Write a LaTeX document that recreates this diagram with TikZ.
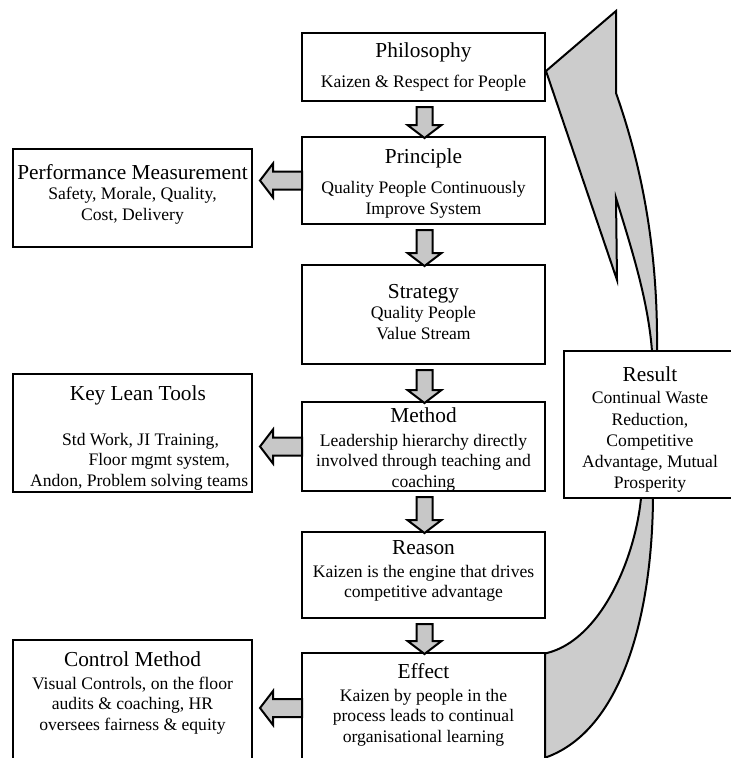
\documentclass[tikz,border=0pt]{standalone}
\usepackage{fontspec}
\setmainfont{Liberation Serif}
\usetikzlibrary{calc,positioning}
\pgfdeclarelayer{bg}
\pgfsetlayers{bg,main}
\tikzset{boxed/.style={draw, line width=1.5pt, fill=white, align=center, inner sep=1pt, outer sep=0pt, font=\fontsize{13.2}{15.4}\selectfont}}
\tikzset{colbox/.style={boxed, minimum width=182.25pt}}
\tikzset{sidebox/.style={boxed, minimum width=179.25pt}}
\tikzset{blockarr/.style={draw, line width=1.5pt, fill=black!22, line join=miter}}
\tikzset{feedback/.style={draw, line width=1.5pt, fill=black!20, line join=miter}}
\newcommand{\ttl}[1]{{\fontsize{16}{19}\selectfont #1}}
% raised title: strut pushes the text block down
\newcommand{\ttlr}[2]{\rule{0pt}{#1}\ttl{#2}}
\newcommand{\downarr}[2]{\path[blockarr] ($(#1.south)+(-7,6)$) -- ($(#2.north)+(-7,-12)$) -- ($(#2.north)+(-16,-12)$) -- ($(#2.north)+(1,1)$) -- ($(#2.north)+(18,-12)$) -- ($(#2.north)+(9,-12)$) -- ($(#1.south)+(9,6)$) -- cycle;}
\newcommand{\leftarr}[2]{\path[blockarr] ($(#1.west)+(0,-9)$) -- ($(#2.east |- #1.west)+(21,-9)$) -- ($(#2.east |- #1.west)+(21,-17)$) -- ($(#2.east |- #1.west)+(8,0)$) -- ($(#2.east |- #1.west)+(21,17)$) -- ($(#2.east |- #1.west)+(21,9)$) -- ($(#1.west)+(0,9)$) -- cycle;}

\begin{document}
\begin{tikzpicture}[x=0.75pt, y=-0.75pt]
	\useasboundingbox (0,0) rectangle (731,758);
	
	\node[colbox, minimum height=51pt] (phil) at (423.5,67) {\ttl{Philosophy}\\[7pt] Kaizen \& Respect for People};
	\node[colbox, minimum height=65.25pt] (prin) at (423.5,180.5) {\ttlr{15.5pt}{Principle}\\[7pt] Quality People Continuously\\ Improve System};
	\node[colbox, minimum height=74.25pt] (strat) at (423.5,314.5) {\ttl{Strategy}\\[0pt] Quality People\\ Value Stream\\[-11pt]\mbox{}};
	\node[colbox, minimum height=66.75pt, inner sep=0pt] (meth) at (423.5,446.5) {\ttlr{15pt}{Method}\\[2.5pt] Leadership hierarchy directly\\ involved through teaching and\\ coaching};
	\node[colbox, minimum height=64.5pt] (reas) at (423.5,575) {\ttl{Reason}\\[1.5pt] Kaizen is the engine that drives\\ competitive advantage\\[-6.5pt]\mbox{}};
	\node[colbox, minimum height=82.5pt] (eff) at (423.5,708) {\ttl{Effect}\\[1.5pt] Kaizen by people in the\\ process leads to continual\\ organisational learning\\[-8pt]\mbox{}};
	
	\node[sidebox, minimum height=73.5pt] (perf) at (132.5,198) {\ttl{Performance Measurement}\\ Safety, Morale, Quality,\\ Cost, Delivery\\[-6.5pt]\mbox{}};
	\node[sidebox, minimum height=88.5pt] (tools) at (132.5,433) {\hspace*{8pt}\ttlr{18.5pt}{Key Lean Tools}\\[18pt] \hspace*{12pt}Std Work, JI Training,\\ \hspace*{40pt}Floor mgmt system,\\ \hspace*{10pt}Andon, Problem solving teams};
	\node[sidebox, minimum height=92.25pt] (ctrl) at (132.5,701.5) {\ttl{Control Method}\\[1.5pt] Visual Controls, on the floor\\ audits \& coaching, HR\\ oversees fairness \& equity\\ \mbox{}};
	
	\node[boxed, minimum width=129pt, minimum height=110.25pt] (res) at (650,424.5) {\ttlr{18.5pt}{Result}\\[1.5pt] Continual Waste\\[0.5pt] Reduction,\\[0.5pt] Competitive\\[0.5pt] Advantage, Mutual\\[0.5pt] Prosperity};
	
	\begin{pgfonlayer}{bg}
		\path[feedback] ($(phil.east)+(1,4)$) -- (616,11) -- (616,93)
		.. controls (645,175) and (658,260) .. (657,351) -- (653,498)
		.. controls (652,620) and (620,730) .. (547,757) -- (545,765) -- (eff.north east) -- (547,653)
		.. controls (600,640) and (635,560) .. (641,498) -- (652,351)
		.. controls (648,300) and (632,250) .. (616,198) -- (617,280) -- cycle;
	\end{pgfonlayer}
	
	\downarr{phil}{prin}
	\downarr{prin}{strat}
	\downarr{strat}{meth}
	\downarr{meth}{reas}
	\downarr{reas}{eff}
	
	\leftarr{prin}{perf}
	\leftarr{meth}{tools}
	\leftarr{eff}{ctrl}
\end{tikzpicture}
\end{document}
